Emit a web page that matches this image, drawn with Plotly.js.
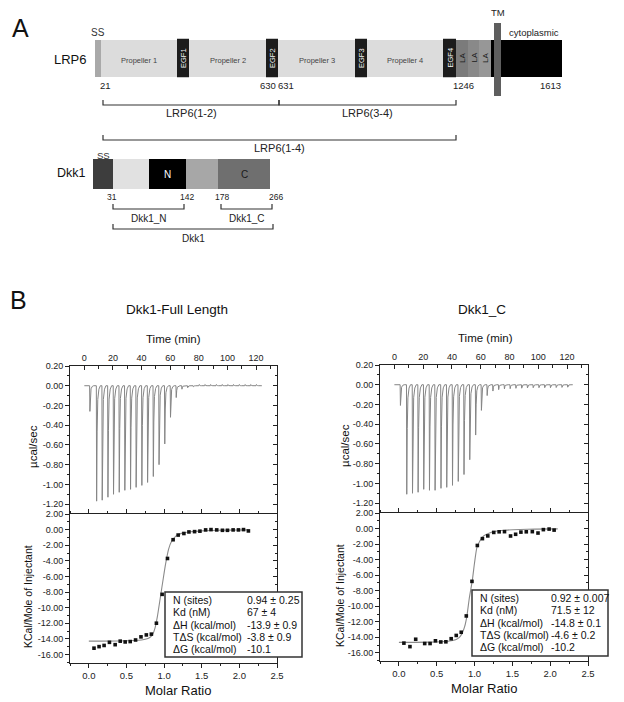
<!DOCTYPE html>
<html><head><meta charset="utf-8">
<script src="https://cdn.plot.ly/plotly-3.0.1.min.js"></script>
<style>html,body{margin:0;padding:0;background:#fff}#chart{width:624px;height:702px}</style>
</head><body><div id="chart"></div>
<script>
// ================= DATA =================
// --- Panel A: LRP6 domain schematic (schematic units along the drawing) ---
const lrpDomainNames  = ['SS','Propellers 1-4','EGF1','EGF2','EGF3','EGF4','LA1','LA2','LA3','cytoplasmic','TM'];
const lrpDomainStart  = [95, 101, 177, 266, 355, 443, 456, 468, 479, 491, 494];
const lrpDomainEnd    = [101, 444, 189, 278, 367, 456, 468, 479, 491, 562, 501];
const lrpDomainColors = ['#a9a9a9','#dcdcdc','#1c1c1c','#1c1c1c','#1c1c1c','#1c1c1c','#7b7b7b','#898989','#979797','#000000','#5e5e5e'];
const propellerLabels = ['Propeller 1','Propeller 2','Propeller 3','Propeller 4'];
const egfLabels       = ['EGF1','EGF2','EGF3','EGF4'];
const laLabels        = ['LA','LA','LA'];
const lrpResidues     = ['21','630','631','1246','1613'];
const lrpResiduePos   = [105, 268, 286, 463, 550];
const lrpConstructs   = ['LRP6(1-2)','LRP6(3-4)','LRP6(1-4)'];
const lrpConstructFrom= [103, 279, 103];
const lrpConstructTo  = [279, 456, 456];
const lrpConstructRow = [105, 105, 140];

// --- Panel A: Dkk1 domain schematic ---
const dkkDomainNames  = ['SS','linker','N','linker2','C'];
const dkkDomainStart  = [93, 113, 149, 186, 218];
const dkkDomainEnd    = [113, 149, 186, 218, 270];
const dkkDomainColors = ['#3d3d3d','#e1e1e1','#000000','#a7a7a7','#6f6f6f'];
const dkkResidues     = ['31','142','178','266'];
const dkkResiduePos   = [112, 187, 222, 276];
const dkkConstructs   = ['Dkk1_N','Dkk1_C','Dkk1'];
const dkkConstructFrom= [113, 221, 113];
const dkkConstructTo  = [184, 272, 273];
const dkkConstructRow = [209, 209, 229];

// --- Panel B: raw ITC thermograms (injection time, min; peak power, µcal/sec) ---
const injTimeFL = [3.7,8.4,12.3,16.3,20.2,24.2,28.1,32.1,36.0,40.0,44.0,48.0,52.0,56.0,60.0,64.0,68.0,72.0,76.0,80.0,84.0,88.0,92.0,96.0,100.0,104.0,108.0,112.0,116.0,120.0];
const injPeakFL = [-0.26,-1.17,-1.16,-1.13,-1.10,-1.08,-1.06,-1.05,-1.03,-1.01,-0.98,-0.92,-0.80,-0.59,-0.32,-0.12,-0.035,-0.02,-0.01,0.012,0.012,0.012,0.012,0.012,0.012,0.012,0.012,0.012,0.012,0.012];
const injTimeC  = [4.0,8.4,12.4,16.3,20.2,24.2,28.1,32.2,36.2,40.2,44.2,48.2,52.2,56.3,60.3,64.3,68.3,72.3,76.3,80.3,84.3,88.3,92.3,96.3,100.3,104.3,108.3,112.3,116.3,120.3];
const injPeakC  = [-0.21,-1.11,-1.10,-1.09,-1.06,-1.07,-1.07,-1.05,-1.04,-1.02,-0.98,-0.91,-0.76,-0.51,-0.26,-0.11,-0.064,-0.05,-0.042,-0.04,-0.036,-0.035,-0.032,-0.03,-0.03,-0.03,-0.03,-0.028,-0.027,-0.025];

// --- Panel B: integrated heats (molar ratio; kcal/mol of injectant) ---
const ratioFL = [0.069,0.136,0.203,0.274,0.350,0.417,0.483,0.550,0.621,0.693,0.764,0.831,0.898,0.974,1.045,1.120,1.187,1.263,1.330,1.405,1.476,1.552,1.623,1.699,1.775,1.842,1.917,1.988,2.055,2.120];
const heatFL  = [-15.2,-15.0,-14.85,-14.45,-14.75,-14.3,-14.4,-14.35,-14.15,-13.75,-13.5,-13.4,-12.0,-8.3,-3.7,-1.3,-0.7,-0.5,-0.3,-0.26,-0.2,-0.04,0.0,-0.04,-0.09,-0.09,-0.04,-0.04,0.0,-0.17];
const fitRatioFL = [0.0,0.4,0.7,0.8,0.85,0.88,0.91,0.95,0.99,1.02,1.06,1.10,1.16,1.24,1.35,1.5,1.7,2.0,2.12];
const fitHeatFL  = [-14.3,-14.28,-14.15,-13.9,-13.4,-12.6,-11.2,-8.7,-6.2,-4.4,-2.5,-1.5,-0.8,-0.45,-0.28,-0.16,-0.09,-0.05,-0.04];

const ratioC = [0.066,0.146,0.222,0.341,0.412,0.483,0.554,0.621,0.691,0.758,0.824,0.891,0.966,1.037,1.104,1.175,1.254,1.325,1.396,1.476,1.543,1.613,1.684,1.764,1.839,1.910,1.986,2.052];
const heatC  = [-14.75,-15.2,-14.25,-14.8,-14.8,-14.45,-14.6,-14.58,-14.18,-13.76,-13.35,-11.25,-6.8,-2.18,-1.3,-0.95,-0.5,-0.42,-0.4,-0.96,-0.74,-0.46,-0.42,-0.4,-0.58,-0.14,-0.07,-0.2];
const fitRatioC = [0.0,0.4,0.65,0.75,0.8,0.84,0.87,0.9,0.93,0.97,1.0,1.03,1.07,1.12,1.19,1.28,1.4,1.6,1.8,2.1];
const fitHeatC  = [-14.65,-14.62,-14.5,-14.3,-14.0,-13.4,-12.6,-11.2,-9.0,-6.7,-4.4,-2.5,-1.6,-0.95,-0.6,-0.35,-0.22,-0.12,-0.07,-0.04];

// --- Fit statistics ---
const statLabels  = ['N (sites)','Kd (nM)','\u0394H (kcal/mol)','T\u0394S (kcal/mol)','\u0394G (kcal/mol)'];
const statValsFL  = ['0.94 \u00b1 0.25','67 \u00b1 4','-13.9 \u00b1 0.9','-3.8 \u00b1 0.9','-10.1'];
const statValsC   = ['0.92 \u00b1 0.007','71.5 \u00b1 12','-14.8 \u00b1 0.1','-4.6 \u00b1 0.2','-10.2'];

// --- Tick labels ---
const timeTickVals  = [0,20,40,60,80,100,120];
const timeTickText  = ['0','20','40','60','80','100','120'];
const rawTickVals   = [0.2,0,-0.2,-0.4,-0.6,-0.8,-1.0,-1.2];
const rawTickText   = ['0.20','0.00','-0.20','-0.40','-0.60','-0.80','-1.00','-1.20'];
const heatTickVals  = [2,0,-2,-4,-6,-8,-10,-12,-14,-16];
const heatTickText  = ['2.00','0.00','-2.00','-4.00','-6.00','-8.00','-10.00','-12.00','-14.00','-16.00'];
const ratioTickVals = [0,0.5,1.0,1.5,2.0,2.5];
const ratioTickText = ['0.0','0.5','1.0','1.5','2.0','2.5'];

// ================= BUILD =================
const W = 624, H = 702;
const px = x => x / W;
const py = y => 1 - y / H;
const FONT = 'Liberation Sans, Arial, Helvetica, sans-serif';
const INK = '#222';

// raw thermogram polyline (spike template around each injection)
function thermogram(times, peaks, tEnd) {
  const x = [0], y = [0];
  times.forEach((t, i) => {
    const p = peaks[i];
    x.push(t, t + 0.2, t + 0.55, t + 1.0, t + 1.8, t + 2.8);
    y.push(0, p, p * 0.4, p * 0.12, p * 0.03, 0);
  });
  x.push(tEnd); y.push(0);
  return {x, y};
}
function bracketPath(from, to, row) {
  const x = [], y = [];
  from.forEach((f, i) => {
    x.push(f, f, to[i], to[i], null);
    y.push(row[i] - 5, row[i], row[i], row[i] - 5, null);
  });
  return {x, y};
}

const traces = [];
// Domain bars (schematic axes x5/y5)
const lrpRowY = lrpDomainNames.map(n => n === 'TM' ? 59.5 : (n.startsWith('EGF') ? 58 : 58.5));
const lrpRowH = lrpDomainNames.map(n => n === 'TM' ? 73 : (n.startsWith('EGF') ? 38.5 : 37));
traces.push({
  type: 'bar', orientation: 'h', xaxis: 'x5', yaxis: 'y5',
  base: lrpDomainStart, x: lrpDomainEnd.map((e, i) => e - lrpDomainStart[i]),
  y: lrpRowY, width: lrpRowH, text: lrpDomainNames, textposition: 'none',
  marker: {color: lrpDomainColors, line: {width: 0}}, hoverinfo: 'skip'
});
traces.push({
  type: 'bar', orientation: 'h', xaxis: 'x5', yaxis: 'y5',
  base: dkkDomainStart, x: dkkDomainEnd.map((e, i) => e - dkkDomainStart[i]),
  y: dkkDomainNames.map(() => 174), width: dkkDomainNames.map(() => 30),
  text: dkkDomainNames, textposition: 'none',
  marker: {color: dkkDomainColors, line: {width: 0}}, hoverinfo: 'skip'
});
const bl = bracketPath(lrpConstructFrom, lrpConstructTo, lrpConstructRow);
traces.push({type: 'scatter', mode: 'lines', xaxis: 'x5', yaxis: 'y5', x: bl.x, y: bl.y,
  line: {color: '#333', width: 1.2}, hoverinfo: 'skip'});
const bd = bracketPath(dkkConstructFrom, dkkConstructTo, dkkConstructRow);
traces.push({type: 'scatter', mode: 'lines', xaxis: 'x5', yaxis: 'y5', x: bd.x, y: bd.y,
  line: {color: '#333', width: 1.2}, hoverinfo: 'skip'});

// Raw thermograms
const tFL = thermogram(injTimeFL, injPeakFL, 124);
traces.push({type: 'scatter', mode: 'lines', xaxis: 'x', yaxis: 'y', x: tFL.x, y: tFL.y,
  line: {color: '#858585', width: 1}, hoverinfo: 'skip'});
const tC = thermogram(injTimeC, injPeakC, 124);
traces.push({type: 'scatter', mode: 'lines', xaxis: 'x3', yaxis: 'y3', x: tC.x, y: tC.y,
  line: {color: '#858585', width: 1}, hoverinfo: 'skip'});

// Integrated heats + fits
traces.push({type: 'scatter', mode: 'lines', xaxis: 'x2', yaxis: 'y2', x: fitRatioFL, y: fitHeatFL,
  line: {color: '#8a8a8a', width: 1.1, shape: 'spline', smoothing: 0.5}, hoverinfo: 'skip'});
traces.push({type: 'scatter', mode: 'markers', xaxis: 'x2', yaxis: 'y2', x: ratioFL, y: heatFL,
  marker: {symbol: 'square', size: 3.6, color: '#111'}, hoverinfo: 'skip'});
traces.push({type: 'scatter', mode: 'lines', xaxis: 'x4', yaxis: 'y4', x: fitRatioC, y: fitHeatC,
  line: {color: '#8a8a8a', width: 1.1, shape: 'spline', smoothing: 0.5}, hoverinfo: 'skip'});
traces.push({type: 'scatter', mode: 'markers', xaxis: 'x4', yaxis: 'y4', x: ratioC, y: heatC,
  marker: {symbol: 'square', size: 3.6, color: '#111'}, hoverinfo: 'skip'});
// placeholders so right-side tick overlays are drawn
[['x','y6'],['x2','y7'],['x3','y8'],['x4','y9']].forEach(([xa, ya]) =>
  traces.push({type: 'scatter', mode: 'markers', xaxis: xa, yaxis: ya, x: [-100], y: [-100],
    marker: {opacity: 0}, hoverinfo: 'skip'}));

// Axes
const baseAx = {showgrid: false, zeroline: false, showline: true, linecolor: INK, linewidth: 1,
  tickcolor: INK, tickfont: {size: 9, color: INK, family: FONT}, fixedrange: true, tickmode: 'array'};
function timeAx(dom, anchor) {
  return Object.assign({}, baseAx, {domain: dom, anchor: anchor, side: 'top', range: [-10, 134.6],
    tickvals: timeTickVals, ticktext: timeTickText, ticks: 'inside', ticklen: 4, mirror: false,
    minor: {tickmode: 'linear', tick0: 0, dtick: 10, ticks: 'inside', ticklen: 3, tickcolor: INK}});
}
function rawAx(dom, anchor) {
  return Object.assign({}, baseAx, {domain: dom, anchor: anchor, range: [-1.30, 0.20],
    tickvals: rawTickVals, ticktext: rawTickText, ticks: 'outside', ticklen: 4, mirror: true,
    minor: {tickmode: 'linear', tick0: 0, dtick: 0.1, ticks: 'outside', ticklen: 2, tickcolor: INK}});
}
function ratioAx(dom, anchor) {
  return Object.assign({}, baseAx, {domain: dom, anchor: anchor, range: [-0.25, 2.5],
    tickvals: ratioTickVals, ticktext: ratioTickText, ticks: 'outside', ticklen: 4, mirror: 'ticks',
    tickfont: {size: 9.5, color: INK, family: FONT},
    minor: {tickmode: 'linear', tick0: 0, dtick: 0.25, ticks: 'outside', ticklen: 2, tickcolor: INK}});
}
function heatAx(dom, anchor, range) {
  return Object.assign({}, baseAx, {domain: dom, anchor: anchor, range: range,
    tickvals: heatTickVals, ticktext: heatTickText, ticks: 'outside', ticklen: 4, mirror: true,
    minor: {tickmode: 'linear', tick0: 0, dtick: 1, ticks: 'outside', ticklen: 2, tickcolor: INK}});
}
function overlayAx(over, anchor, range, vals, mdt) {
  return {overlaying: over, anchor: anchor, side: 'right', range: range, tickmode: 'array',
    tickvals: vals, ticks: 'inside', ticklen: 4, tickcolor: INK, showticklabels: false,
    showline: false, showgrid: false, zeroline: false, fixedrange: true,
    minor: {tickmode: 'linear', tick0: 0, dtick: mdt, ticks: 'inside', ticklen: 2, tickcolor: INK}};
}
const xL = [px(70), px(277)], xR = [px(380), px(588)];
const upL = [py(514), py(366)], loL = [py(663), py(514)];
const upR = [py(513), py(365)], loR = [py(661), py(513)];

// Annotations
const ann = [];
function A(text, x, y, o) {
  ann.push(Object.assign({text: text, x: x, y: y, xref: 'paper', yref: 'paper', showarrow: false,
    xanchor: 'center', yanchor: 'middle', font: {family: FONT, size: 10, color: INK}}, o || {}));
}
function S(text, x, y, size, color, o) { // schematic-space label
  ann.push(Object.assign({text: text, x: x, y: y, xref: 'x5', yref: 'y5', showarrow: false,
    xanchor: 'center', yanchor: 'middle', font: {family: FONT, size: size, color: color}}, o || {}));
}
A('A', px(20), py(28), {font: {family: FONT, size: 25, color: '#111'}});
A('B', px(18), py(300), {font: {family: FONT, size: 25, color: '#111'}});
S('LRP6', 70, 59, 13, '#111');
S('SS', 98, 32, 10, '#333');
propellerLabels.forEach((t, i) => {
  const s = i === 0 ? lrpDomainEnd[0] : lrpDomainEnd[1 + i];
  const e = lrpDomainStart[2 + i];
  S(t, (s + e) / 2, 60, 7.5, '#444');
});
egfLabels.forEach((t, i) => S(t, (lrpDomainStart[2 + i] + lrpDomainEnd[2 + i]) / 2, 58, 7.5, '#f2f2f2', {textangle: -90}));
laLabels.forEach((t, i) => S(t, (lrpDomainStart[6 + i] + lrpDomainEnd[6 + i]) / 2, 58, 8, '#1a1a1a', {textangle: -90}));
S('TM', 498, 12, 9.5, '#222');
S('cytoplasmic', 534, 32, 9.5, '#222');
lrpResidues.forEach((t, i) => S(t, lrpResiduePos[i], 85, 9.5, '#222'));
lrpConstructs.forEach((t, i) => S(t, (lrpConstructFrom[i] + lrpConstructTo[i]) / 2, lrpConstructRow[i] + 8, 11, '#222'));
S('Dkk1', 71, 173, 12.5, '#111');
S('SS', 103, 155, 9.5, '#333');
S('N', (dkkDomainStart[2] + dkkDomainEnd[2]) / 2, 174, 10, '#fff');
S('C', (dkkDomainStart[4] + dkkDomainEnd[4]) / 2, 174, 10, '#1a1a1a');
dkkResidues.forEach((t, i) => S(t, dkkResiduePos[i], 197, 8.5, '#222'));
dkkConstructs.forEach((t, i) => S(t, (dkkConstructFrom[i] + dkkConstructTo[i]) / 2, dkkConstructRow[i] + 9, 10, '#222'));

A('Dkk1-Full Length', px(177), py(309), {font: {family: FONT, size: 13.5, color: '#111'}});
A('Dkk1_C', px(482), py(309), {font: {family: FONT, size: 13.5, color: '#111'}});
A('Time (min)', px(173), py(339), {font: {family: FONT, size: 11.5, color: '#111'}});
A('Time (min)', px(485), py(338), {font: {family: FONT, size: 11.5, color: '#111'}});
A('\u00b5cal/sec', px(33), py(447), {textangle: -90, font: {family: FONT, size: 11.5, color: '#111'}});
A('\u00b5cal/sec', px(345), py(446), {textangle: -90, font: {family: FONT, size: 11.5, color: '#111'}});
A('KCal/Mole of Injectant', px(28), py(597), {textangle: -90, font: {family: FONT, size: 10.5, color: '#111'}});
A('KCal/Mole of Injectant', px(340), py(595), {textangle: -90, font: {family: FONT, size: 10.5, color: '#111'}});
A('Molar Ratio', px(178), py(690), {font: {family: FONT, size: 13, color: '#111'}});
A('Molar Ratio', px(484), py(688), {font: {family: FONT, size: 13, color: '#111'}});

const shapes = [];
function statBox(x0, x1, y0, y1, labX, valX, vals) {
  shapes.push({type: 'rect', xref: 'paper', yref: 'paper', x0: px(x0), x1: px(x1), y0: py(y0), y1: py(y1),
    fillcolor: '#fff', line: {color: '#333', width: 1.5}, layer: 'above'});
  statLabels.forEach((t, i) => {
    const yy = y0 + 8 + i * 12.3;
    A(t, px(labX), py(yy), {xanchor: 'left', font: {family: FONT, size: 10.5, color: '#111'}});
    A(vals[i], px(valX), py(yy), {xanchor: 'left', font: {family: FONT, size: 10.5, color: '#111'}});
  });
}
statBox(165, 302, 592, 657, 171, 245, statValsFL);
statBox(472, 608, 590, 656, 478, 549, statValsC);

const layout = {
  width: W, height: H, margin: {l: 0, r: 0, t: 0, b: 0},
  paper_bgcolor: '#fff', plot_bgcolor: 'rgba(0,0,0,0)',
  showlegend: false, hovermode: false, barmode: 'overlay',
  font: {family: FONT, color: INK},
  xaxis: timeAx(xL, 'y'),
  yaxis: rawAx(upL, 'x'),
  xaxis2: ratioAx(xL, 'y2'),
  yaxis2: heatAx(loL, 'x2', [-17.1, 2.0]),
  xaxis3: timeAx(xR, 'y3'),
  yaxis3: rawAx(upR, 'x3'),
  xaxis4: ratioAx(xR, 'y4'),
  yaxis4: heatAx(loR, 'x4', [-17.05, 2.0]),
  xaxis5: {domain: [0, 1], range: [0, W], visible: false, fixedrange: true, anchor: 'y5'},
  yaxis5: {domain: [py(250), 1], range: [250, 0], visible: false, fixedrange: true, anchor: 'x5'},
  yaxis6: overlayAx('y', 'x', [-1.30, 0.20], rawTickVals, 0.1),
  yaxis7: overlayAx('y2', 'x2', [-17.1, 2.0], heatTickVals, 1),
  yaxis8: overlayAx('y3', 'x3', [-1.30, 0.20], rawTickVals, 0.1),
  yaxis9: overlayAx('y4', 'x4', [-17.05, 2.0], heatTickVals, 1),
  annotations: ann, shapes: shapes
};
Plotly.newPlot('chart', traces, layout, {staticPlot: true, displayModeBar: false});
</script>
</body></html>
